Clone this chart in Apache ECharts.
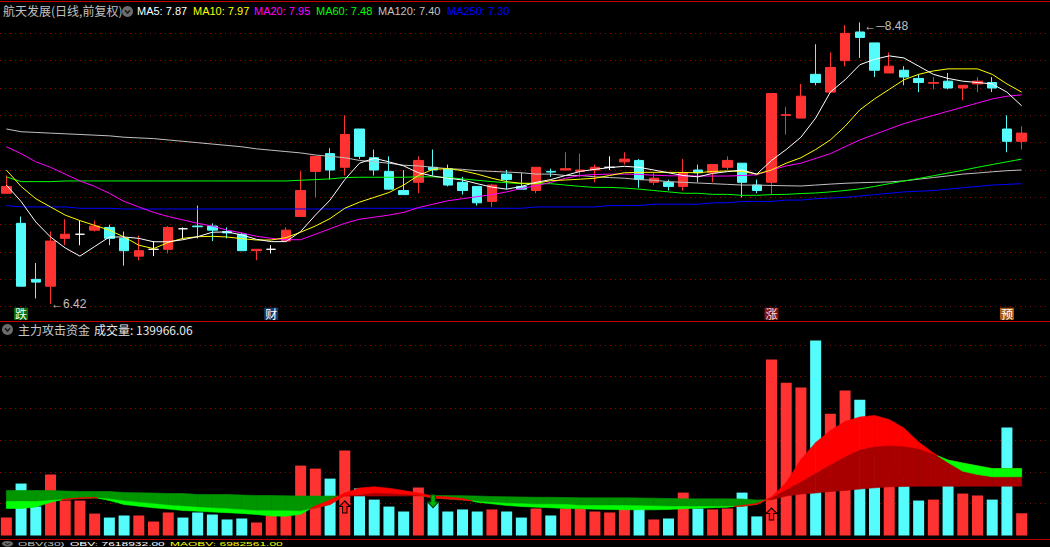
<!DOCTYPE html>
<html><head><meta charset="utf-8">
<script src="https://cdn.jsdelivr.net/npm/echarts@6/dist/echarts.min.js"></script>
<style>html,body{margin:0;padding:0;background:#000;}#c{width:1050px;height:547px;}</style>
</head><body><div id="c"></div>
<script>
// ---- candles (price, 前复权) ----
const opens  = [7.23,7.01,6.60,6.55,6.90,6.93,6.96,6.98,6.90,6.77, 6.82,6.82,6.97,6.99,6.99,6.95,6.93,6.81,6.82,6.88, 7.06,7.39,7.52,7.42,7.70,7.49,7.39,7.25,7.31,7.42, 7.41,7.31,7.28,7.17,7.37,7.28,7.25,7.39,7.40,7.39, 7.40,7.42,7.46,7.47,7.31,7.31,7.28,7.40,7.38,7.42, 7.45,7.29,7.31,7.80,7.78,8.10,7.97,8.20,8.41,8.33, 8.11,8.13,8.07,8.035,8.05,8.00,8.03,8.04,7.70,7.61];
const closes = [7.28,6.55,6.58,6.88,6.93,6.93,6.99,6.90,6.81,6.81, 6.82,6.98,6.97,6.985,6.96,6.94,6.81,6.82,6.82,6.96, 7.25,7.50,7.40,7.66,7.50,7.40,7.26,7.22,7.47,7.40, 7.29,7.25,7.16,7.29,7.33,7.26,7.42,7.385,7.41,7.40, 7.42,7.42,7.48,7.33,7.34,7.28,7.38,7.38,7.44,7.47, 7.31,7.25,7.96,7.805,7.94,8.04,8.15,8.40,8.37,8.13, 8.16,8.08,8.04,8.04,8.00,8.02,8.05,8.00,7.61,7.67];
const highs  = [7.36,7.06,6.72,6.95,7.04,7.03,7.03,7.00,6.95,6.92, 6.88,6.99,6.98,7.14,7.01,6.98,6.94,6.82,6.85,6.98, 7.39,7.50,7.56,7.80,7.70,7.55,7.50,7.40,7.50,7.55, 7.44,7.35,7.28,7.30,7.40,7.38,7.42,7.41,7.53,7.52, 7.44,7.50,7.53,7.48,7.38,7.33,7.48,7.44,7.44,7.50, 7.45,7.33,7.96,7.86,8.03,8.32,8.26,8.46,8.48,8.33, 8.26,8.16,8.10,8.08,8.11,8.02,8.08,8.08,7.80,7.72];
const lows   = [7.23,6.55,6.46,6.42,6.85,6.85,6.95,6.85,6.70,6.74, 6.77,6.79,6.90,6.90,6.88,6.90,6.81,6.74,6.79,6.88, 7.06,7.20,7.33,7.36,7.48,7.36,7.26,7.22,7.23,7.36, 7.28,7.22,7.14,7.13,7.26,7.26,7.23,7.35,7.40,7.35, 7.31,7.40,7.44,7.27,7.29,7.25,7.25,7.31,7.31,7.40, 7.20,7.23,7.22,7.66,7.78,8.02,7.97,8.16,8.22,8.08, 8.11,8.02,7.97,7.99,7.99,7.91,7.97,7.97,7.53,7.55];
// ---- moving averages ----
const ma5   = [7.29,7.17,7.02,6.91,6.83,6.77,6.84,6.91,6.91,6.90, 6.875,6.875,6.89,6.912,6.945,6.947,6.925,6.893,6.876,6.876, 6.95,7.07,7.18,7.33,7.45,7.486,7.46,7.43,7.38,7.356, 7.34,7.327,7.30,7.275,7.26,7.28,7.31,7.33,7.36,7.39, 7.405,7.418,7.427,7.42,7.40,7.38,7.36,7.35,7.375,7.388, 7.40,7.37,7.47,7.55,7.64,7.78,7.97,8.06,8.17,8.21, 8.235,8.22,8.16,8.10,8.07,8.05,8.04,8.03,7.97,7.87];
const ma10  = [7.40,7.28,7.19,7.13,7.07,7.03,6.995,6.96,6.91,6.85, 6.825,6.87,6.90,6.912,6.915,6.91,6.898,6.888,6.888,6.905, 6.945,6.99,7.045,7.12,7.165,7.20,7.235,7.29,7.36,7.405, 7.41,7.395,7.37,7.34,7.315,7.303,7.303,7.322,7.327,7.333, 7.34,7.36,7.38,7.383,7.383,7.383,7.382,7.38,7.39,7.393, 7.39,7.37,7.40,7.45,7.49,7.55,7.62,7.72,7.84,7.92, 7.99,8.06,8.10,8.125,8.14,8.14,8.14,8.10,8.03,7.97];
const ma20  = [7.57,7.52,7.46,7.42,7.37,7.32,7.28,7.23,7.17,7.13, 7.09,7.06,7.035,7.01,6.99,6.96,6.94,6.915,6.90,6.89, 6.89,6.93,6.97,7.01,7.04,7.055,7.07,7.09,7.125,7.15, 7.175,7.19,7.205,7.22,7.24,7.265,7.285,7.31,7.34,7.36, 7.367,7.37,7.37,7.368,7.362,7.358,7.357,7.356,7.356,7.356, 7.36,7.365,7.40,7.43,7.45,7.485,7.52,7.57,7.62,7.66, 7.70,7.74,7.77,7.80,7.83,7.86,7.89,7.92,7.94,7.95];
const ma60  = [7.35,7.315,7.315,7.315,7.32,7.32,7.32,7.32,7.32,7.32, 7.32,7.32,7.32,7.32,7.32,7.32,7.32,7.32,7.32,7.32, 7.325,7.33,7.335,7.345,7.347,7.347,7.347,7.347,7.35,7.35, 7.345,7.335,7.325,7.315,7.307,7.30,7.30,7.30,7.29,7.28, 7.273,7.273,7.268,7.26,7.25,7.24,7.23,7.23,7.222,7.222, 7.215,7.215,7.22,7.222,7.228,7.232,7.24,7.25,7.262,7.28, 7.30,7.32,7.338,7.358,7.378,7.398,7.42,7.44,7.46,7.48];
const ma120 = [7.70,7.68,7.675,7.67,7.665,7.66,7.655,7.65,7.64,7.635, 7.63,7.62,7.61,7.60,7.59,7.58,7.57,7.555,7.545,7.535, 7.525,7.51,7.50,7.49,7.47,7.46,7.45,7.435,7.43,7.42, 7.41,7.405,7.395,7.39,7.385,7.38,7.37,7.37,7.36,7.36, 7.35,7.345,7.34,7.33,7.325,7.315,7.31,7.305,7.30,7.295, 7.29,7.29,7.287,7.285,7.283,7.29,7.297,7.303,7.307,7.31, 7.313,7.32,7.333,7.345,7.357,7.37,7.378,7.387,7.395,7.40];
const ma250 = [7.14,7.13,7.13,7.13,7.13,7.12,7.12,7.12,7.115,7.115, 7.115,7.115,7.115,7.115,7.115,7.115,7.115,7.115,7.115,7.115, 7.115,7.115,7.115,7.115,7.12,7.12,7.12,7.12,7.12,7.12, 7.12,7.12,7.12,7.12,7.12,7.12,7.13,7.13,7.13,7.13, 7.13,7.14,7.14,7.14,7.15,7.15,7.15,7.15,7.16,7.16, 7.17,7.17,7.17,7.18,7.18,7.19,7.195,7.20,7.21,7.22, 7.23,7.24,7.245,7.25,7.26,7.27,7.28,7.29,7.295,7.30];
// ---- volume ----
const vols = [113000,327000,182000,384000,220000,220000,138000,113000,126000,126000, 88000,145000,113000,145000,132000,101000,107000,82000,126000,126000, 440000,421000,358000,535000,296000,226000,182000,151000,302000,208000, 151000,164000,151000,164000,151000,113000,170000,126000,170000,170000, 151000,145000,170000,170000,101000,107000,270000,170000,164000,170000, 270000,120000,1107000,962000,931000,1227000,767000,912000,855000,503000, 409000,377000,220000,226000,346000,264000,252000,226000,679000,139966.06];
// ---- 主力攻击资金 indicator (own scale) ----
const fundFast = [27,27,28.5,33.3,36.5,37.7,38,35,31,29.3, 27.7,26.4,25,24.3,23.5,22.8,22,21,19.5,19.3, 21.2,29.5,35.5,42.5,47.5,48.7,47.3,45,42.5,39.5, 38.5,37,33.3,31.7,30,29,28.3,27.7,27,26.7, 26.3,26,25.7,25.7,25.7,26,26.7,27.3,27.8,28.3, 30,32,38.5,53,76,93,105,114,118.5,120, 116,107.5,93.5,82.5,73,64.3,61,58.7,58.7,58.7];
const fundMid  = [34,34,34,35,36,37,37.5,36.5,34.5,33, 31.7,30.2,29.3,28.3,27.5,26.8,25.8,24.8,24.7,24.7, 24.3,27.5,31,40,41,42.7,42.3,41.5,40.3,37.5, 36.5,35.5,34,33,32.3,31.8,31.3,31.3,31,30, 30,30,30,29.7,29.5,29,29,29,29,29, 29.2,31,37.8,46,54,62.5,71,79,86,89, 90,89.3,86.8,81.5,75.5,72.5,69.7,67,67,67];
const fundSlow = [45,45,45,45,44.5,44,44,44,43,42.7, 42.5,42,42,41,41,41,40.5,40,40,39.7, 39.5,39.5,39.5,39.5,39.5,39.5,39.5,39.5,39.7,40, 40,39.8,39.5,39,38.7,38.5,38.3,38.2,38,37.7, 37.7,37.7,37.7,37.5,37.3,37,36.7,36.7,36.7,36.7, 36.5,35.5,35.8,39.5,41.5,42.5,44,45,46.5,47.7, 48.7,49,49.3,49.3,49.3,49.3,49.3,49.3,49.3,49.3];
const buyIdx = [23, 52], buyVal = [28.5, 21.5];
const sellIdx = [29], sellVal = [34.3];
// ---- event tags on the time axis ----
const eventIdx = [1, 18, 52, 68];
const eventText = ['跌', '财', '涨', '预'];
const eventBg = ['#0b6e0b', '#183a6a', '#7d1414', '#a65a14'];
const eventFg = ['#e8ffe8', '#ffffff', '#ffd8d8', '#ffffff'];
// ---- header texts ----
const stockTitle = '航天发展(日线,前复权)';
const indTitle = '主力攻击资金';
const obvTexts = ['OBV(30)', 'OBV: 7618932.00', 'MAOBV: 6982561.00'];

const N = closes.length;
const days = closes.map((_, i) => String(i + 1));
const RED = '#ff3232', CYAN = '#54fcfc';
const isDoji = i => opens[i] === closes[i];
const candleData = days.map((_, i) => isDoji(i) ? '-' : [opens[i], closes[i], lows[i], highs[i]]);
const dojiData = days.map((_, i) => isDoji(i) ? [opens[i], closes[i], lows[i], highs[i]] : '-');
const volUp = i => closes[i] > opens[i] || (closes[i] === opens[i] && (i === 0 || closes[i] >= closes[i - 1]));
const volData = vols.map((v, i) => ({ value: v, itemStyle: { color: volUp(i) ? RED : CYAN } }));

function bandRender(hi, lo, colUp, colDn) {
  return function (params, api) {
    const i = params.dataIndex;
    if (i >= N - 1) return null;
    const a0 = hi[i], a1 = hi[i + 1], b0 = lo[i], b1 = lo[i + 1];
    const pa0 = api.coord([i, a0]), pa1 = api.coord([i + 1, a1]);
    const pb0 = api.coord([i, b0]), pb1 = api.coord([i + 1, b1]);
    const d0 = a0 - b0, d1 = a1 - b1;
    const polys = [];
    if (d0 * d1 < 0) {
      const t = d0 / (d0 - d1);
      const px = pa0[0] + t * (pa1[0] - pa0[0]);
      const py = pa0[1] + t * (pa1[1] - pa0[1]);
      polys.push({ pts: [pa0, [px, py], pb0], up: d0 > 0 });
      polys.push({ pts: [[px, py], pa1, pb1], up: d1 > 0 });
    } else {
      polys.push({ pts: [pa0, pa1, pb1, pb0], up: (d0 + d1) >= 0 });
    }
    return {
      type: 'group',
      children: polys.map(p => ({
        type: 'polygon', shape: { points: p.pts },
        style: { fill: p.up ? colUp : colDn, stroke: p.up ? colUp : colDn, lineWidth: 0.6 }
      }))
    };
  };
}

function maLine(name, arr, color) {
  return { name, type: 'line', xAxisIndex: 0, yAxisIndex: 0, data: arr, showSymbol: false, symbol: 'none',
    lineStyle: { color, width: 1 }, itemStyle: { color }, z: 4, silent: true };
}

const LAT = '"Liberation Sans", Arial, sans-serif';
const CJK = '"Noto Sans CJK SC", sans-serif';
function txt(x, y, text, fill, font, sy) {
  return { type: 'text', x, y, scaleY: sy || 1, silent: true,
    style: { text, fill, font, align: 'left', verticalAlign: 'top' } };
}
function icon(x, y, sy) {
  return { type: 'group', x, y, scaleY: sy || 1, silent: true, children: [
    { type: 'circle', shape: { cx: 5.5, cy: 5.5, r: 5.5 }, style: { fill: '#6c6c6c' } },
    { type: 'polyline', shape: { points: [[3, 4.3], [5.5, 7], [8, 4.3]] }, style: { stroke: '#1c1c1c', lineWidth: 1.6, fill: null } }
  ] };
}

const rich = {};
eventText.forEach((t, k) => {
  rich['e' + k] = { backgroundColor: eventBg[k], color: eventFg[k], fontSize: 12, lineHeight: 14, padding: [0, 1], fontFamily: CJK };
});

const splitDots = { color: '#980000', type: [1, 4], width: 1 };
const redLine = { show: true, onZero: false, lineStyle: { color: '#c00000', width: 1 } };
const noAxisBits = { axisTick: { show: false }, axisLabel: { show: false }, splitLine: { show: false } };

const option = {
  backgroundColor: '#000000',
  animation: false,
  grid: [
    { left: -1, right: 21, top: 6, bottom: 240.3, outerBoundsMode: 'none', containLabel: false },
    { left: -1, right: 21, top: 321, bottom: 11.5, outerBoundsMode: 'none', containLabel: false },
    { left: 0, right: 0, top: 6, bottom: 240.3, outerBoundsMode: 'none', containLabel: false },
    { left: 0, right: 0, top: 321, bottom: 11.5, outerBoundsMode: 'none', containLabel: false }
  ],
  xAxis: [
    { type: 'category', gridIndex: 0, data: days, position: 'bottom',
      axisLine: { show: false }, axisTick: { show: false }, splitLine: { show: false },
      axisLabel: { interval: 0, margin: 0, hideOverlap: false,
        formatter: (v, idx) => { const k = eventIdx.indexOf(idx); return k < 0 ? '' : '{e' + k + '|' + eventText[k] + '}'; },
        rich } },
    { type: 'category', gridIndex: 1, data: days, show: false },
    Object.assign({ type: 'value', gridIndex: 2, min: 0, max: 1, position: 'top', offset: 5, axisLine: redLine }, noAxisBits),
    Object.assign({ type: 'value', gridIndex: 3, min: 0, max: 1, position: 'top', axisLine: redLine }, noAxisBits),
    Object.assign({ type: 'value', gridIndex: 3, min: 0, max: 1, position: 'bottom', offset: 4, axisLine: redLine }, noAxisBits)
  ],
  yAxis: [
    { type: 'value', gridIndex: 0, min: 6.4, max: 8.6, show: false },
    { type: 'value', gridIndex: 1, min: 0, max: 1350000, show: false },
    { type: 'value', gridIndex: 1, min: 0, max: 214.5, show: false },
    { type: 'value', gridIndex: 2, min: 6.4, max: 8.6, interval: 0.2, axisLine: { show: false }, axisTick: { show: false }, axisLabel: { show: false },
      splitLine: { show: true, showMinLine: true, showMaxLine: false, lineStyle: splitDots } },
    { type: 'value', gridIndex: 3, min: 0, max: 1350000, interval: 200000, axisLine: { show: false }, axisTick: { show: false }, axisLabel: { show: false },
      splitLine: { show: true, showMinLine: false, showMaxLine: false, lineStyle: splitDots } }
  ],
  series: [
    { name: 'K', type: 'candlestick', xAxisIndex: 0, yAxisIndex: 0, data: candleData, barWidth: 10, z: 2, silent: true,
      itemStyle: { color: RED, color0: CYAN, borderColor: RED, borderColor0: CYAN, borderWidth: 1 },
      markPoint: { symbol: 'circle', symbolSize: 1, silent: true, itemStyle: { color: 'rgba(0,0,0,0)' },
        label: { show: true, position: 'right', distance: 0, color: '#c0c0c0', fontSize: 12, fontFamily: LAT,
          formatter: p => '←' + Number(p.value).toFixed(2) },
        data: [ { type: 'max', valueDim: 'highest', label: { offset: [4, 4], formatter: p => '←─' + Number(p.value).toFixed(2) } },
                { type: 'min', valueDim: 'lowest' } ] } },
    { name: 'Kdoji', type: 'candlestick', xAxisIndex: 0, yAxisIndex: 0, data: dojiData, barWidth: 10, z: 2, silent: true,
      itemStyle: { color: '#ffffff', color0: '#ffffff', borderColor: '#ffffff', borderColor0: '#ffffff', borderColorDoji: '#ffffff', borderWidth: 1 } },
    maLine('MA250', ma250, '#0000ff'),
    maLine('MA120', ma120, '#c0c0c0'),
    maLine('MA60', ma60, '#00ff00'),
    maLine('MA20', ma20, '#ff00ff'),
    maLine('MA10', ma10, '#ffff00'),
    maLine('MA5', ma5, '#ffffff'),
    { name: 'VOL', type: 'bar', xAxisIndex: 1, yAxisIndex: 1, data: volData, barWidth: 11, z: 2, silent: true },
    { name: 'bandSlow', type: 'custom', xAxisIndex: 1, yAxisIndex: 2, z: 3, silent: true,
      data: days.map((d, i) => [i, fundMid[i], fundSlow[i]]), encode: { x: 0, y: [1, 2] },
      renderItem: bandRender(fundMid, fundSlow, '#a80000', '#009600') },
    { name: 'bandFast', type: 'custom', xAxisIndex: 1, yAxisIndex: 2, z: 4, silent: true,
      data: days.map((d, i) => [i, fundFast[i], fundMid[i]]), encode: { x: 0, y: [1, 2] },
      renderItem: bandRender(fundFast, fundMid, '#ff0000', '#00ff00') },
    { name: 'buy', type: 'scatter', xAxisIndex: 1, yAxisIndex: 2, z: 6, silent: true,
      data: buyIdx.map((x, k) => [x, buyVal[k]]),
      symbol: 'path://M5 0 L10 5.5 L7 5.5 L7 12 L3 12 L3 5.5 L0 5.5 Z', symbolSize: [11, 12],
      itemStyle: { color: '#ff1a1a', borderColor: '#000000', borderWidth: 1, opacity: 1 } },
    { name: 'sell', type: 'scatter', xAxisIndex: 1, yAxisIndex: 2, z: 6, silent: true,
      data: sellIdx.map((x, k) => [x, sellVal[k]]),
      symbol: 'path://M3 0 L7 0 L7 6.5 L10 6.5 L5 12 L0 6.5 L3 6.5 Z', symbolSize: [11, 13],
      itemStyle: { color: '#00b400', borderColor: '#003a00', borderWidth: 1, opacity: 1 } }
  ],
  graphic: [
    txt(3, 4, stockTitle, '#c0c0c0', '12px ' + CJK),
    icon(122, 6),
    txt(137, 5, 'MA5: ' + ma5[N - 1].toFixed(2), '#ffffff', '11px ' + LAT),
    txt(193, 5, 'MA10: ' + ma10[N - 1].toFixed(2), '#ffff00', '11px ' + LAT),
    txt(254, 5, 'MA20: ' + ma20[N - 1].toFixed(2), '#ff00ff', '11px ' + LAT),
    txt(316, 5, 'MA60: ' + ma60[N - 1].toFixed(2), '#00ff00', '11px ' + LAT),
    txt(378, 5, 'MA120: ' + ma120[N - 1].toFixed(2), '#c0c0c0', '11px ' + LAT),
    txt(447, 5, 'MA250: ' + ma250[N - 1].toFixed(2), '#0000ff', '11px ' + LAT),
    icon(2, 324),
    txt(18, 323, indTitle, '#c8c8c8', '12px ' + CJK),
    txt(94, 323, '成交量: ' + vols[N - 1].toFixed(2), '#e8e8e8', '12px ' + CJK),
    icon(2, 541, 0.5),
    txt(18, 540.5, obvTexts[0], '#c0c0c0', '12px ' + LAT, 0.5),
    txt(70, 540.5, obvTexts[1], '#ffffff', '12px ' + LAT, 0.5),
    txt(170, 540.5, obvTexts[2], '#ffff00', '12px ' + LAT, 0.5)
  ]
};

const chart = echarts.init(document.getElementById('c'), null, { renderer: 'svg', width: 1050, height: 547 });
chart.setOption(option);
</script></body></html>
